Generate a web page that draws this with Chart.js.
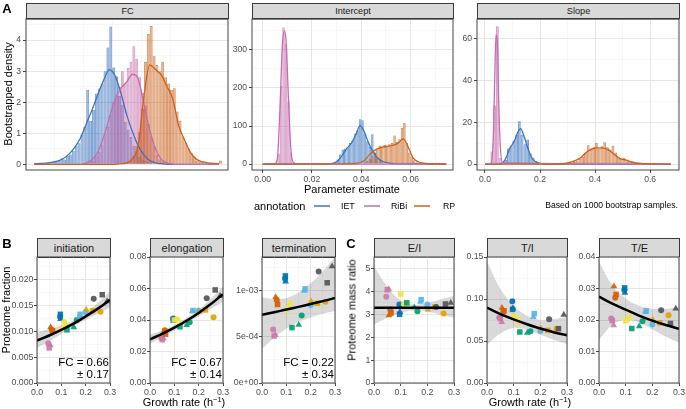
<!DOCTYPE html>
<html>
<head>
<meta charset="utf-8">
<script src="https://cdn.jsdelivr.net/npm/chart.js@4.4.1/dist/chart.umd.min.js"></script>
<style>
    body { margin: 0; background: #fff; font-family: "Liberation Sans", Arial, sans-serif; }
    #fig { position: relative; width: 686px; height: 409px; overflow: hidden; background: #fff; }
    .txt { position: absolute; white-space: nowrap; line-height: 1; color: #000; }
    .strip { position: absolute; box-sizing: border-box; background: #d9d9d9; border: 1px solid #3a3a3a;
             color: #1a1a1a; text-align: center; display: flex; align-items: center; justify-content: center; }
    .key { position: absolute; height: 2px; }
</style>
</head>
<body>
<div id="fig"></div>
<script>
// --- DATA: PANEL A (bootstrap distributions) ---
const annotations = ['IET', 'RiBi', 'RP'];

// FC facet: histogram bin centres + heights, one list per annotation
const fcBinsIET = [0.0125,0.0375,0.0625,0.0875,0.1125,0.1375,0.1625,0.1875,0.2125,0.2375,0.2625,0.2875,0.3125,0.3375,0.3625,0.3875,0.4125,0.4375,0.4625,0.4875,0.5125,0.5375,0.5625,0.5875,0.6125,0.6375,0.6625,0.6875,0.7125,0.7375,0.7625,0.7875,0.8125,0.8375,0.8625,0.8875,0.9125,0.9375,0.9625,0.9875,1.0125];
const fcHistIET = [0.04,0.04,0.04,0,0.04,0.04,0.08,0.08,0.12,0.2,0.16,0.28,0.32,0.44,0.6,0.68,0.96,1.2,2.4,1.4,1.76,2.28,2.44,2.6,3.0,3.76,4.44,3.12,2.84,2.2,1.92,1.36,1.12,0.88,0.6,0.44,0.24,0.16,0.12,0.08,0.04];
const fcBinsRiBi = [0.4625,0.4875,0.5125,0.5375,0.5625,0.5875,0.6125,0.6375,0.6625,0.6875,0.7125,0.7375,0.7625,0.7875,0.8125,0.8375,0.8625,0.8875,0.9125,0.9375,0.9625,0.9875,1.0125,1.0375,1.0625,1.0875,1.1125,1.1375,1.1625];
const fcHistRiBi = [0.04,0.08,0.12,0.28,0.4,0.64,1.0,1.2,1.6,2.0,2.2,2.5,3.0,2.6,3.1,3.3,3.8,3.4,2.8,2.3,1.9,1.3,0.9,0.6,0.3,0.16,0.08,0.04,0.04];
const fcBinsRP = [0.7625,0.7875,0.8125,0.8375,0.8625,0.8875,0.9125,0.9375,0.9625,0.9875,1.0125,1.0375,1.0625,1.0875,1.1125,1.1375,1.1625,1.1875,1.2125,1.2375,1.2625,1.2875,1.3125,1.3375,1.3625,1.3875,1.4125,1.4375,1.4625,1.4875,1.5125,1.5375,1.5625,1.5875,1.6125];
const fcHistRP = [0.04,0.04,0.08,0.16,0.28,0.6,1.04,1.8,3.3,4.2,4.45,3.5,3.2,3.0,3.3,2.8,2.6,2.4,2.45,1.7,1.4,0.9,0.7,0.5,0.36,0.24,0.12,0.08,0.08,0.04,0.04,0,0.04,0.04,0.12];

const fcDensX = [0,0.05,0.1,0.15,0.2,0.25,0.3,0.35,0.4,0.45,0.5,0.55,0.6,0.65,0.7,0.75,0.8,0.85,0.9,0.95,1,1.05,1.1,1.15,1.2,1.25,1.3,1.35,1.4,1.45,1.5,1.55,1.6];
const fcDensIET = [0.02,0.03,0.04,0.06,0.1,0.18,0.33,0.55,0.85,1.3,1.75,2.25,2.7,3.05,2.85,2.3,1.6,1.05,0.6,0.3,0.12,0.05,0.02,0,0,0,0,0,0,0,0,0,0];
const fcDensRiBi = [0,0,0,0,0,0,0,0,0,0.05,0.15,0.4,0.88,1.5,2.1,2.45,2.65,2.9,2.75,1.95,1.1,0.5,0.16,0.05,0.01,0,0,0,0,0,0,0,0];
const fcDensRP = [0,0,0,0,0,0,0,0,0,0,0,0,0,0,0,0.02,0.05,0.18,0.6,2.2,3.2,3.05,2.88,2.5,2.1,1.25,0.8,0.4,0.18,0.09,0.05,0.03,0.02];

// Intercept facet
const intBinsIET = [0.0275,0.0285,0.0295,0.0305,0.0315,0.0325,0.0335,0.0345,0.0355,0.0365,0.0375,0.0385,0.0395,0.0405,0.0415,0.0425,0.0435,0.0445,0.0455,0.0465,0.0475,0.0485,0.0495,0.0505];
const intHistIET = [2,3,6,12,25,38,40,44,55,62,80,88,118,115,80,60,45,78,30,18,10,5,2,1];
const intBinsRiBi = [0.0055,0.0065,0.0075,0.0085,0.0095,0.0105,0.0115,0.0125];
const intHistRiBi = [4,28,205,360,315,165,30,4];
const intBinsRP = [0.0405,0.0415,0.0425,0.0435,0.0445,0.0455,0.0465,0.0475,0.0485,0.0495,0.0505,0.0515,0.0525,0.0535,0.0545,0.0555,0.0565,0.0575,0.0585,0.0595,0.0605,0.0615,0.0625,0.0635,0.0645,0.0655,0.0665,0.0675,0.0685,0.0695,0.0705,0.0715,0.0725,0.0735,0.0745];
const intHistRP = [2,4,8,14,22,30,38,48,46,50,48,52,55,75,58,65,95,108,55,30,18,10,5,3,2,1,1,0.5,0.5,0.5,0.5,0.5,0.5,0.5,2];

const intDensXIET = [0,0.025,0.028,0.03,0.032,0.034,0.036,0.038,0.0395,0.041,0.043,0.045,0.047,0.049,0.052,0.056,0.0745];
const intDensIET = [0,0,1,6,20,40,55,80,101,88,55,30,14,6,2,0.5,0];
const intDensXRiBi = [0,0.005,0.006,0.007,0.008,0.0088,0.0095,0.0105,0.0115,0.0125,0.014,0.0745];
const intDensRiBi = [0,1,15,140,310,350,325,170,35,4,0,0];
const intDensXRP = [0,0.03,0.038,0.041,0.043,0.045,0.047,0.049,0.051,0.053,0.055,0.057,0.059,0.061,0.063,0.066,0.07,0.0745];
const intDensRP = [0,0.5,1.5,8,22,34,41,45,47,50,55,66,45,16,6,2,0.5,0];

// Slope facet
const slopeBinsIET = [0.065,0.075,0.085,0.095,0.105,0.115,0.125,0.135,0.145,0.155,0.165,0.175,0.185,0.195];
const slopeHistIET = [0.5,2,7.5,8.5,11,14,20.5,14,9.5,11.7,5,3,1.5,0.5];
const slopeBinsRiBi = [0.025,0.035,0.045,0.055];
const slopeHistRiBi = [6,28,66,3];
const slopeBinsRP = [0.305,0.315,0.325,0.335,0.345,0.355,0.365,0.375,0.385,0.395,0.405,0.415,0.425,0.435,0.445,0.455,0.465,0.475,0.485,0.495,0.505,0.515,0.525,0.535,0.545,0.555,0.565,0.575,0.585];
const slopeHistRP = [0.3,0.5,1,1.5,2.5,3.5,5.5,9,7.5,8,10.2,7.5,8.5,10.5,8,7,8.8,5.5,3.5,2.5,3,2,1.5,1,0.7,0.4,0.3,0.2,0.2];

const slopeDensXIET = [0,0.05,0.07,0.08,0.09,0.1,0.11,0.12,0.13,0.14,0.15,0.16,0.17,0.18,0.2,0.22,0.675];
const slopeDensIET = [0,0,1.5,4,7.5,9.5,12,15.5,17,14,10,6,3,1.5,0.3,0,0];
const slopeDensXRiBi = [0,0.02,0.03,0.035,0.04,0.045,0.05,0.055,0.065,0.675];
const slopeDensRiBi = [0,0,12,38,62,58,30,10,0.5,0];
const slopeDensXRP = [0,0.25,0.3,0.33,0.35,0.37,0.39,0.41,0.43,0.45,0.47,0.49,0.51,0.53,0.55,0.58,0.62,0.675];
const slopeDensRP = [0,0,0.5,1.8,3.3,5.8,7.3,7.7,7.6,6.7,4.6,2.6,2,1.2,0.5,0.2,0.05,0];

// --- DATA: PANELS B + C (growth-rate dependence) ---
const dataSource = ['S1','S1','S1','S2','S2','S2','S3','S3','S3','S4','S4','S4','S5','S5','S5','S6','S6','S6','S7','S7','S7','S8','S8','S8'];
const replicate  = [1,2,3, 3,1,2, 1,2,3, 2,1,3, 2,3,1, 3,2,1, 3,2,1, 1,2,3];
const growthRate = [0.046,0.050,0.055, 0.056,0.061,0.064, 0.095,0.096,0.097, 0.100,0.112,0.116, 0.123,0.151,0.163, 0.174,0.177,0.200, 0.202,0.228,0.261, 0.233,0.268,0.288];

const initiation  = [0.0077,0.0068,0.0073, 0.0108,0.0103,0.0101, 0.0128,0.0133,0.0124, 0.0105,0.0118,0.0112, 0.0103,0.0108,0.0122, 0.0128,0.0133,0.0137, 0.0142,0.0140,0.0138, 0.0163,0.0171,0.0158];
const elongation  = [0.0285,0.0275,0.0283, 0.0325,0.0335,0.0310, 0.0410,0.0400,0.0395, 0.0400,0.0405,0.0398, 0.0357,0.0368,0.0385, 0.0455,0.0460,0.0460, 0.0453,0.0464,0.0417, 0.0538,0.0591,0.0553];
const termination = [5.8e-4,5.1e-4,5.2e-4, 9.3e-4,9.0e-4,8.5e-4, 1.13e-3,1.16e-3,1.10e-3, 7.9e-4,8.2e-4,8.7e-4, 6.0e-4,6.3e-4,7.3e-4, 1.0e-3,1.02e-3,8.45e-4, 8.85e-4,8.63e-4,8.81e-4, 1.209e-3,1.086e-3,1.263e-3];
const ratioEI = [3.77,4.07,4.10, 2.96,3.21,3.06, 3.43,3.00,3.10, 3.88,3.45,3.50, 3.50,3.30,3.13, 3.54,3.64,3.43, 3.21,3.32,3.03, 3.32,3.45,3.50];
const ratioTI = [0.078,0.0766,0.0726, 0.0895,0.0845,0.086, 0.0972,0.0877,0.089, 0.0794,0.0766,0.0714, 0.0607,0.0597,0.0615, 0.0786,0.0825,0.062, 0.0647,0.0627,0.0647, 0.0758,0.0647,0.0813];
const ratioTE = [0.0205,0.0198,0.0183, 0.0307,0.0271,0.0281, 0.0295,0.0302,0.0286, 0.0198,0.0205,0.0223, 0.0173,0.0180,0.0196, 0.0225,0.0229,0.0186, 0.0201,0.0191,0.0215, 0.0231,0.0189,0.0236];

// fitted curve + confidence band
const fitX = [0, 0.05, 0.1, 0.15, 0.2, 0.25, 0.3];
const initFit = [0.0082,0.0092,0.0103,0.0115,0.0129,0.0144,0.0161];
const initLo  = [0.0068,0.0081,0.0095,0.0110,0.0122,0.0134,0.0146];
const initHi  = [0.0098,0.0104,0.0112,0.0121,0.0136,0.0155,0.0177];
const elongFit = [0.0277,0.0312,0.0351,0.0395,0.0445,0.0501,0.0564];
const elongLo  = [0.0248,0.0290,0.0333,0.0378,0.0424,0.0470,0.0518];
const elongHi  = [0.0308,0.0335,0.0369,0.0412,0.0467,0.0534,0.0613];
const termFit = [7.4e-4,7.67e-4,7.96e-4,8.25e-4,8.56e-4,8.87e-4,9.2e-4];
const termLo  = [3.7e-4,4.9e-4,5.9e-4,6.6e-4,7.1e-4,7.5e-4,7.8e-4];
const termHi  = [9.3e-4,9.1e-4,9.2e-4,9.8e-4,1.08e-3,1.21e-3,1.37e-3];
const eiFit = [3.29,3.29,3.29,3.29,3.29,3.29,3.29];
const eiLo  = [2.55,2.85,3.07,3.17,3.12,2.98,2.85];
const eiHi  = [5.1,4.2,3.6,3.42,3.5,3.65,3.8];
const tiFit = [0.0897,0.082,0.0757,0.0700,0.0648,0.0605,0.0567];
const tiLo  = [0.0456,0.059,0.0655,0.0632,0.0575,0.0515,0.0465];
const tiHi  = [0.145,0.112,0.092,0.080,0.075,0.076,0.079];
const teFit = [0.0274,0.0252,0.0233,0.0214,0.0198,0.0184,0.0172];
const teLo  = [0.0137,0.0185,0.0201,0.0192,0.0170,0.0148,0.0128];
const teHi  = [0.0385,0.031,0.0268,0.0245,0.0236,0.0236,0.0239];

const fcText = {
    initiation: ['FC = 0.66', '± 0.17'],
    elongation: ['FC = 0.67', '± 0.14'],
    termination: ['FC = 0.22', '± 0.34']
};

// --- STYLE ---
const FONT = '"Liberation Sans", Arial, sans-serif';
const LINE_COL = { IET: '#3b73bd', RiBi: '#c56dac', RP: '#c9621d' };
const SRC_COL = { S1: '#CC79A7', S2: '#D55E00', S3: '#0072B2', S4: '#F0E442', S5: '#009E73', S6: '#56B4E9', S7: '#E69F00', S8: '#555555' };
const SHAPE = { 1: 'circle', 2: 'rect', 3: 'triangle' };
const RADIUS = { 1: 3.0, 2: 3.9, 3: 3.9 };
const PAD_T = 6, PAD_R = 10;

Chart.defaults.font.family = FONT;
const fig = document.getElementById('fig');

// --- HELPERS ---
function rgba(hex, a) {
    const n = parseInt(hex.slice(1), 16);
    return `rgba(${(n >> 16) & 255}, ${(n >> 8) & 255}, ${n & 255}, ${a})`;
}

function xy(xs, ys) {
    return xs.map((x, i) => ({ x, y: ys[i] }));
}

function isMajor(v, major) {
    const r = v / major;
    return Math.abs(r - Math.round(r)) < 1e-6;
}

function addText(html, x, y, size, opts = {}) {
    const el = document.createElement('div');
    el.className = 'txt';
    el.innerHTML = html;
    el.style.left = x + 'px';
    el.style.top = y + 'px';
    el.style.fontSize = size + 'px';
    const ax = opts.align === 'left' ? '0' : opts.align === 'right' ? '-100%' : '-50%';
    el.style.transform = `translate(${ax}, -50%)` + (opts.rotate ? ' rotate(-90deg)' : '');
    if (opts.bold) el.style.fontWeight = 'bold';
    if (opts.color) el.style.color = opts.color;
    fig.appendChild(el);
}

function addStrip(label, rect, top, size) {
    const el = document.createElement('div');
    el.className = 'strip';
    el.style.left = rect.l + 'px';
    el.style.top = top + 'px';
    el.style.width = (rect.r - rect.l + 1) + 'px';
    el.style.height = (rect.t - top + 1) + 'px';
    el.style.fontSize = size + 'px';
    el.textContent = label;
    fig.appendChild(el);
}

function makeCanvas(rect, yw, xh) {
    const cv = document.createElement('canvas');
    const w = rect.r - rect.l + yw + PAD_R;
    const h = rect.b - rect.t + PAD_T + xh;
    cv.width = w;
    cv.height = h;
    cv.style.cssText = `position:absolute;left:${rect.l - yw}px;top:${rect.t - PAD_T}px;width:${w}px;height:${h}px`;
    fig.appendChild(cv);
    return cv;
}

function scaleOpts(min, max, major, fmt, fontSize, fitSize, isX, pad) {
    const maj = (c) => c.tick && isMajor(c.tick.value, major);
    return {
        type: 'linear', min, max, offset: false,
        afterFit: (s) => { if (isX) s.height = fitSize; else s.width = fitSize; },
        ticks: {
            stepSize: major / 2, includeBounds: false, autoSkip: false, maxRotation: 0, minRotation: 0,
            padding: pad, color: '#4d4d4d', font: { size: fontSize },
            callback: (v) => isMajor(v, major) ? fmt(v) : ''
        },
        grid: {
            offset: false,
            color: (c) => maj(c) ? '#e6e6e6' : '#f1f1f1',
            lineWidth: (c) => maj(c) ? 1 : 0.6,
            tickLength: 3, tickWidth: 0.9,
            tickColor: (c) => maj(c) ? '#333' : 'rgba(0,0,0,0)'
        },
        border: { display: false }
    };
}

// panel border drawn on top of everything, like ggplot's theme_bw
const framePlugin = {
    id: 'frame',
    afterDraw(chart) {
        const { ctx, chartArea: a } = chart;
        ctx.save();
        ctx.strokeStyle = '#333';
        ctx.lineWidth = 0.9;
        ctx.strokeRect(a.left, a.top, a.right - a.left, a.bottom - a.top);
        ctx.restore();
    }
};

function baseOptions(xScale, yScale) {
    return {
        responsive: false, animation: false, devicePixelRatio: 1, events: [],
        layout: { padding: { top: PAD_T, right: PAD_R, left: 0, bottom: 0 } },
        plugins: { legend: { display: false }, tooltip: { enabled: false } },
        scales: { x: xScale, y: yScale }
    };
}

// --- PANEL A RENDERER ---
function densityPanel(name, rect, bins, hist, densX, dens, xAx, yAx) {
    addStrip(name, rect, 3, 9.2);
    const datasets = [];
    annotations.forEach((g, gi) => {
        datasets.push({
            type: 'bar', data: xy(bins[gi], hist[gi]),
            backgroundColor: rgba(LINE_COL[g], 0.48), borderColor: rgba(LINE_COL[g], 0.85),
            borderWidth: 0.7, borderSkipped: false, inflateAmount: 0,
            grouped: false, barPercentage: 1, categoryPercentage: 1, order: 10 - gi
        });
    });
    annotations.forEach((g, gi) => {
        datasets.push({
            type: 'line', data: xy(densX[gi], dens[gi]),
            borderColor: LINE_COL[g], borderWidth: 1.3, pointRadius: 0, fill: false,
            cubicInterpolationMode: 'monotone', order: 5 - gi, clip: 0
        });
    });
    const cv = makeCanvas(rect, 22, 14);
    new Chart(cv, {
        type: 'bar',
        data: { datasets },
        options: baseOptions(
            scaleOpts(xAx[0], xAx[1], xAx[2], xAx[3], 8.6, 14, true, 1),
            scaleOpts(yAx[0], yAx[1], yAx[2], yAx[3], 8.6, 22, false, 2)
        ),
        plugins: [framePlugin]
    });
}

// --- PANELS B/C RENDERER ---
function fitPanel(name, rect, values, fit, lo, hi, yAx) {
    addStrip(name, rect, 238, 11);
    const cv = makeCanvas(rect, 30, 14);
    const band = 'rgba(0,0,0,0)';
    new Chart(cv, {
        type: 'scatter',
        data: {
            datasets: [
                { type: 'line', data: xy(fitX, lo), borderColor: band, borderWidth: 0, pointRadius: 0, fill: false, tension: 0.35, order: 4, clip: 0 },
                { type: 'line', data: xy(fitX, hi), borderColor: band, borderWidth: 0, pointRadius: 0, fill: '-1', backgroundColor: 'rgba(0,0,0,0.15)', tension: 0.35, order: 3, clip: 0 },
                {
                    type: 'scatter', data: xy(growthRate, values),
                    pointStyle: replicate.map(r => SHAPE[r]),
                    pointRadius: replicate.map(r => RADIUS[r]),
                    pointBackgroundColor: dataSource.map(s => rgba(SRC_COL[s], 0.92)),
                    pointBorderWidth: 0, order: 1, clip: 0
                },
                { type: 'line', data: xy(fitX, fit), borderColor: '#000', borderWidth: 2.5, pointRadius: 0, fill: false, tension: 0.35, order: 0, clip: 0 }
            ]
        },
        options: baseOptions(
            scaleOpts(0, 0.3, 0.1, v => v.toFixed(1), 8.8, 14, true, 1),
            scaleOpts(yAx[0], yAx[1], yAx[2], yAx[3], 8.8, 30, false, 0.5)
        ),
        plugins: [framePlugin]
    });
    if (fcText[name]) {
        addText(fcText[name][0], rect.r - 1, rect.b - 20, 11.5, { align: 'right' });
        addText(fcText[name][1], rect.r - 1, rect.b - 8, 11.5, { align: 'right' });
    }
}

// --- BUILD PANEL A ---
const f1 = v => v.toFixed(1), f2 = v => v.toFixed(2), f3 = v => v.toFixed(3), f0 = v => v.toFixed(0);
const sci = v => v === 0 ? '0e+00' : v.toExponential(0).replace(/e-(\d)$/, 'e-0$1');

densityPanel('FC', { l: 26, t: 18, r: 228, b: 170 },
    [fcBinsIET, fcBinsRiBi, fcBinsRP], [fcHistIET, fcHistRiBi, fcHistRP],
    [fcDensX, fcDensX, fcDensX], [fcDensIET, fcDensRiBi, fcDensRP],
    [-0.072, 1.678, 0.5, f1], [-0.182, 4.674, 1, f0]);
densityPanel('Intercept', { l: 252, t: 18, r: 453, b: 170 },
    [intBinsIET, intBinsRiBi, intBinsRP], [intHistIET, intHistRiBi, intHistRP],
    [intDensXIET, intDensXRiBi, intDensXRP], [intDensIET, intDensRiBi, intDensRP],
    [-0.0043, 0.0772, 0.02, f2], [-15.7, 381, 100, f0]);
densityPanel('Slope', { l: 477, t: 18, r: 679, b: 170 },
    [slopeBinsIET, slopeBinsRiBi, slopeBinsRP], [slopeHistIET, slopeHistRiBi, slopeHistRP],
    [slopeDensXIET, slopeDensXRiBi, slopeDensXRP], [slopeDensIET, slopeDensRiBi, slopeDensRP],
    [-0.029, 0.705, 0.2, f1], [-2.85, 69.4, 20, f0]);

addText('A', 7, 8, 13, { bold: true });
addText('Bootstrapped density', 8, 94, 11, { rotate: true });
addText('Parameter estimate', 352, 189, 11);

// legend row
addText('annotation', 254, 206, 11, { align: 'left' });
[['IET', 314, 341], ['RiBi', 364, 391], ['RP', 414, 443]].forEach(([g, kx, tx]) => {
    const k = document.createElement('div');
    k.className = 'key';
    k.style.cssText += `left:${kx}px;top:205px;width:16px;background:${rgba(LINE_COL[g], 0.75)}`;
    fig.appendChild(k);
    addText(g, tx, 206, 8.8, { align: 'left' });
});
addText('Based on 1000 bootstrap samples.', 678, 205, 8.6, { align: 'right' });

// --- BUILD PANELS B + C ---
fitPanel('initiation', { l: 37, t: 257, r: 110, b: 383 }, initiation, initFit, initLo, initHi, [0, 0.0244, 0.005, f3]);
fitPanel('elongation', { l: 150, t: 257, r: 223, b: 383 }, elongation, elongFit, elongLo, elongHi, [0, 0.08, 0.02, f2]);
fitPanel('termination', { l: 262, t: 257, r: 335, b: 383 }, termination, termFit, termLo, termHi, [0, 1.365e-3, 5e-4, sci]);
fitPanel('E/I', { l: 374, t: 257, r: 454, b: 383 }, ratioEI, eiFit, eiLo, eiHi, [0, 5.5, 1, f0]);
fitPanel('T/I', { l: 487, t: 257, r: 567, b: 383 }, ratioTI, tiFit, tiLo, tiHi, [0, 0.15, 0.05, f2]);
fitPanel('T/E', { l: 599, t: 257, r: 679, b: 383 }, ratioTE, teFit, teLo, teHi, [0, 0.04, 0.01, f2]);

addText('B', 7, 243, 13, { bold: true });
addText('C', 351, 243, 13, { bold: true });
addText('Proteome fraction', 6, 310, 11, { rotate: true });
addText('Proteome mass ratio', 352, 310, 11, { rotate: true });
addText('Growth rate (h<sup style="font-size:7.5px">−1</sup>)', 184, 402, 11);
addText('Growth rate (h<sup style="font-size:7.5px">−1</sup>)', 530, 402, 11);
</script>
</body>
</html>
